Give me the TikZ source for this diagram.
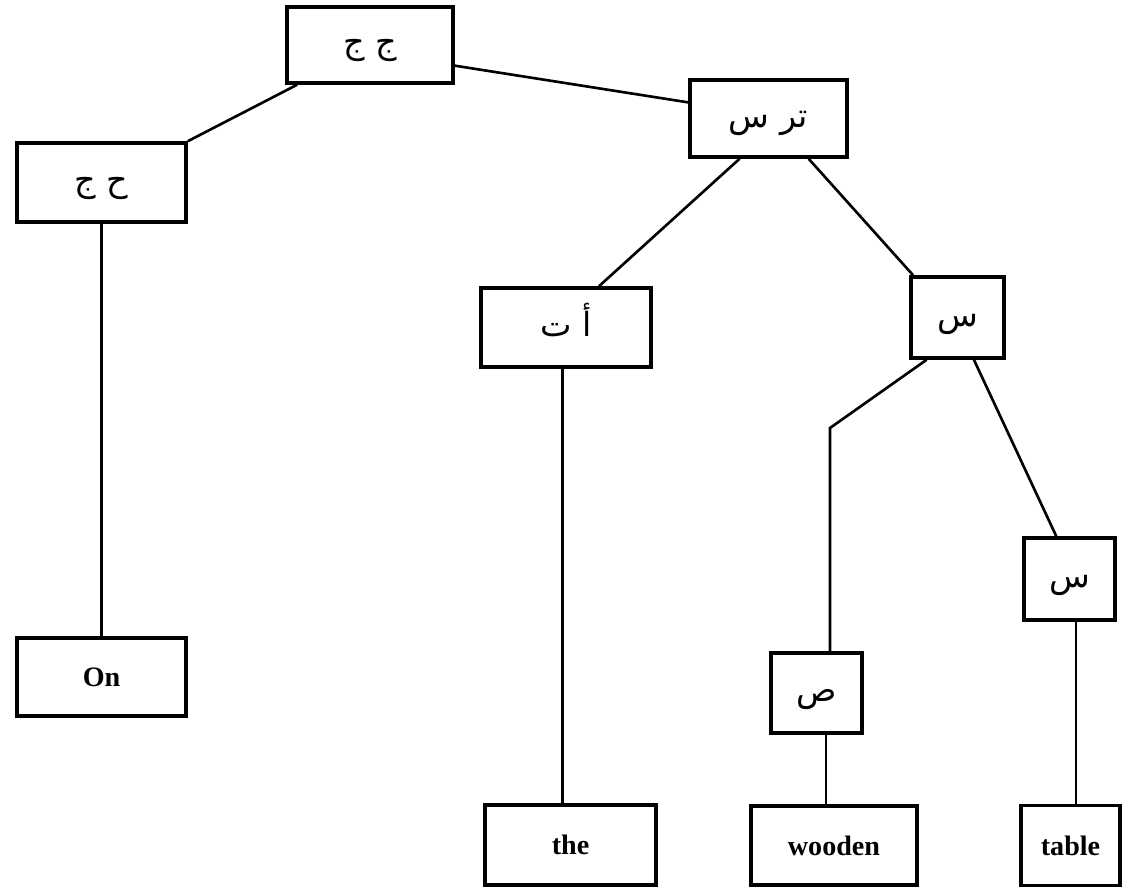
\documentclass[tikz,border=0pt]{standalone}
\usepackage{fontspec}
\setmainfont{Liberation Serif}
\newfontfamily\arabicfont[Script=Arabic]{DejaVu Sans}
\TeXXeTstate=1
\usetikzlibrary{calc}
\newcommand{\ar}[1]{\raisebox{-5pt}[8pt][8pt]{\arabicfont\beginR #1\endR}}
\begin{document}
\begin{tikzpicture}[x=0.02cm,y=-0.02cm,
  box/.style={draw, line width=2pt, inner sep=0pt, font=\fontsize{16}{18}\selectfont\bfseries},
  arbox/.style={box, font=\fontsize{19}{22}\selectfont},
  link/.style={line width=1.5pt}]
\useasboundingbox (0,0) rectangle (1126,888);
\fill[white] (0,0) rectangle (1126,888);

% tree nodes (centre, width, height in px)
\node[arbox, minimum width=166*0.02cm, minimum height=76*0.02cm] (top) at (370,45) {\ar{ج ج}};
\node[arbox, minimum width=169*0.02cm, minimum height=79*0.02cm] (hj) at (101.5,182.5) {\ar{ح ج}};
\node[arbox, minimum width=157*0.02cm, minimum height=77*0.02cm] (trs) at (768.5,118.5) {\ar{تر س}};
\node[arbox, minimum width=170*0.02cm, minimum height=79*0.02cm] (at) at (566,327.5) {\ar{أ ت}};
\node[arbox, minimum width=93*0.02cm, minimum height=81*0.02cm] (s1) at (957.5,317.5) {\ar{س}};
\node[arbox, minimum width=91*0.02cm, minimum height=82*0.02cm] (s2) at (1069.5,579) {\ar{س}};
\node[arbox, minimum width=91*0.02cm, minimum height=80*0.02cm] (sad) at (816.5,693) {\ar{ص}};

% leaf words
\node[box, minimum width=169*0.02cm, minimum height=78*0.02cm] (on) at (101.5,677) {On};
\node[box, minimum width=171*0.02cm, minimum height=80*0.02cm] (the) at (570.5,845) {the};
\node[box, minimum width=166*0.02cm, minimum height=79*0.02cm] (wooden) at (834,845.5) {wooden};
\node[box, minimum width=99*0.02cm, minimum height=80*0.02cm] (table) at (1070.5,845.5) {table};

% branches
\draw[link] ($(top.south west)!0.07!(top.south east)$) -- (hj.north east);
\draw[link] ($(top.north east)!0.76!(top.south east)$) -- ($(trs.north west)!0.3!(trs.south west)$);
\draw[link] (hj.south) -- (on.north -| hj.south);
\draw[link] ($(trs.south west)!0.32!(trs.south east)$) -- ($(at.north west)!0.69!(at.north east)$);
\draw[link] ($(trs.south west)!0.75!(trs.south east)$) -- ($(s1.north west)!0.04!(s1.north east)$);
\draw[link] ($(at.south west)!0.48!(at.south east)$) coordinate (atb) -- (atb |- the.north);
\coordinate (bend) at (830,428);
\draw[link] ($(s1.south west)!0.18!(s1.south east)$) -- (bend) -- (bend |- sad.north);
\draw[link] ($(s1.south west)!0.67!(s1.south east)$) -- ($(s2.north west)!0.36!(s2.north east)$);
\draw[link] ($(sad.south west)!0.6!(sad.south east)$) coordinate (sadb) -- (sadb |- wooden.north);
\draw[link] ($(s2.south west)!0.57!(s2.south east)$) coordinate (s2b) -- (s2b |- table.north);
\end{tikzpicture}
\end{document}
